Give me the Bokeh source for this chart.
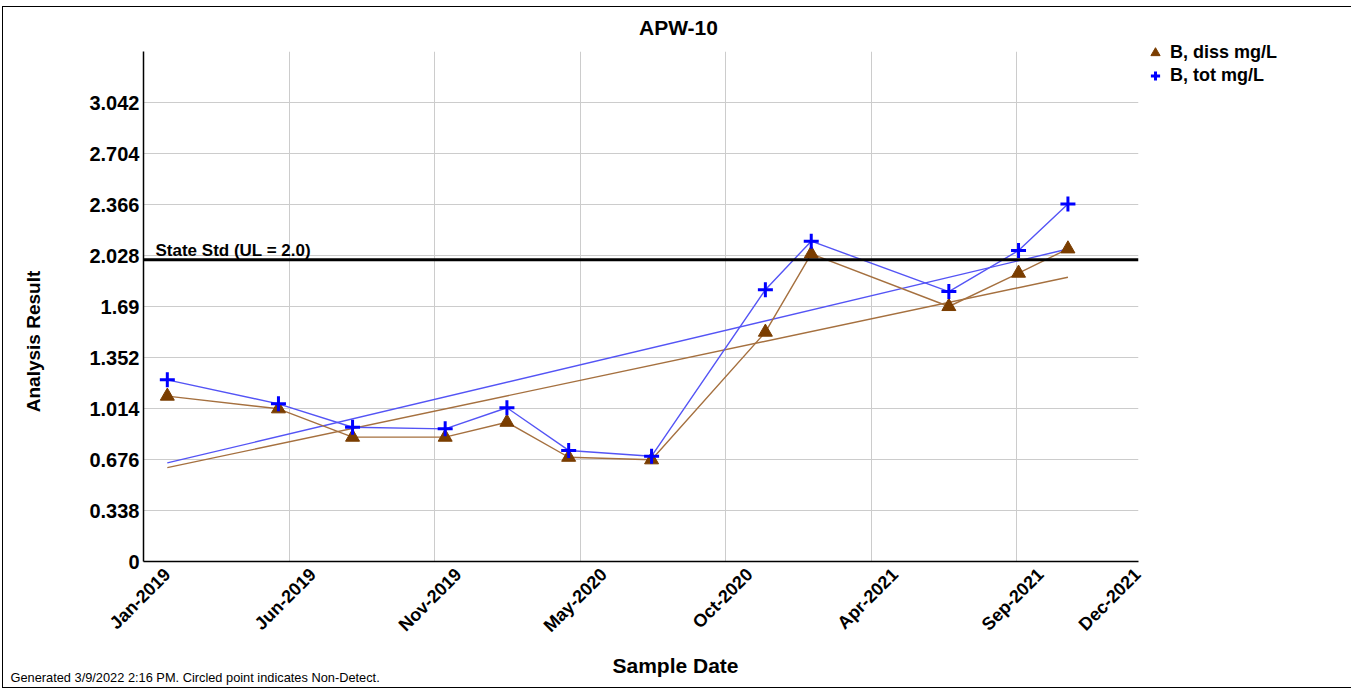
import numpy as np
import pandas as pd
from math import pi
from bokeh.plotting import figure
from bokeh.models import (Range1d, FixedTicker, Span, Label, InlineStyleSheet,
                          ColumnDataSource, Legend, LegendItem)
from bokeh.embed import file_html
from bokeh.resources import INLINE

# ---------------- data ----------------
chart_title = "APW-10"
sample_dates = ["2019-01-28", "2019-06-03", "2019-08-26", "2019-12-09",
                "2020-02-17", "2020-04-27", "2020-07-30", "2020-12-06",
                "2021-01-27", "2021-07-02", "2021-09-19", "2021-11-14"]
b_diss = [1.096, 1.012, 0.824, 0.824, 0.923, 0.691, 0.674, 1.520,
          2.039, 1.690, 1.911, 2.072]
b_tot = [1.204, 1.045, 0.890, 0.879, 1.019, 0.736, 0.698, 1.801,
         2.123, 1.789, 2.061, 2.370]
series_names = ["B, diss mg/L", "B, tot mg/L"]

y_ticks = [0, 0.338, 0.676, 1.014, 1.352, 1.69, 2.028, 2.366, 2.704, 3.042]
y_tick_labels = ["0", "0.338", "0.676", "1.014", "1.352", "1.69", "2.028",
                 "2.366", "2.704", "3.042"]
y_max = 3.38
x_start, x_end = "2019-01-01", "2022-02-02"
x_grid_dates = ["2019-01-01", "2019-06-15", "2019-11-27", "2020-05-10",
                "2020-10-22", "2021-04-05", "2021-09-17"]
x_label_dates = x_grid_dates + ["2022-01-05"]
x_tick_labels = ["Jan-2019", "Jun-2019", "Nov-2019", "May-2020", "Oct-2020",
                 "Apr-2021", "Sep-2021", "Dec-2021"]
state_std = 2.0
state_std_text = "State Std (UL = 2.0)"
x_title = "Sample Date"
y_title = "Analysis Result"
footer_text = "Generated 3/9/2022 2:16 PM. Circled point indicates Non-Detect."

# ---------------- styling ----------------
FONT = "Liberation Sans"
DISS_LINE = "#a5703f"
DISS_MARK = "#7a3d00"
TOT_LINE = "#5454f5"
TOT_MARK = "#0000ff"
GRID = "#cccccc"
LABEL_SHIFT_DAYS = 27   # rotated tick labels sit centred under their tick

dates = pd.to_datetime(sample_dates)
src = ColumnDataSource(dict(date=dates, diss=b_diss, tot=b_tot))

p = figure(width=1345, height=680, frame_width=995, frame_height=510,
           x_axis_type="datetime", title=None,
           x_range=Range1d(start=pd.Timestamp(x_start), end=pd.Timestamp(x_end)),
           y_range=Range1d(start=0, end=y_max),
           output_backend="svg", toolbar_location=None,
           min_border_left=140, min_border_right=210,
           min_border_top=44, min_border_bottom=126)
p.outline_line_color = None
p.background_fill_color = "white"
p.border_fill_color = "white"
p.stylesheets = [InlineStyleSheet(css=(
    ":host { border: 1px solid #000000 !important; box-sizing: content-box !important;"
    " margin-left: 2px !important; margin-top: 6px !important; }"))]


def ms(d):
    return int(pd.Timestamp(d).value // 10**6)


shift_ms = LABEL_SHIFT_DAYS * 86400000
label_ticks = [ms(d) + shift_ms for d in x_label_dates]

# axes
p.xaxis.ticker = FixedTicker(ticks=label_ticks)
p.xaxis.major_label_overrides = {t: l for t, l in zip(label_ticks, x_tick_labels)}
p.xaxis.major_label_orientation = pi / 4
p.xaxis.major_label_standoff = 10
p.xaxis.major_label_text_font_size = "18px"
p.xgrid.ticker = FixedTicker(ticks=[ms(d) for d in x_grid_dates])
p.yaxis.ticker = FixedTicker(ticks=y_ticks)
p.yaxis.major_label_overrides = {t: l for t, l in zip(y_ticks, y_tick_labels)}
p.yaxis.major_label_standoff = 4
p.yaxis.major_label_text_font_size = "20px"
for ax in (p.xaxis, p.yaxis):
    ax.major_tick_out = 0
    ax.major_tick_in = 0
    ax.minor_tick_out = 0
    ax.minor_tick_in = 0
    ax.axis_line_color = "black"
    ax.axis_line_width = 1.5
    ax.major_label_text_font = FONT
    ax.major_label_text_font_style = "bold"
    ax.major_label_text_color = "black"

p.xgrid.grid_line_color = GRID
p.ygrid.grid_line_color = GRID

# trend lines (least squares)
days = np.array((dates - dates[0]).days, dtype=float)
trend_x = [dates[0], dates[-1]]
for vals, col in ((b_diss, DISS_LINE), (b_tot, TOT_LINE)):
    k, b = np.polyfit(days, np.array(vals), 1)
    p.line(x=trend_x, y=[b + k * days[0], b + k * days[-1]],
           line_color=col, line_width=1.4)

# series
p.line("date", "diss", source=src, line_color=DISS_LINE, line_width=1.4)
p.line("date", "tot", source=src, line_color=TOT_LINE, line_width=1.4)
r_diss = p.scatter("date", "diss", source=src, marker="triangle", size=14,
                   fill_color=DISS_MARK, line_color=DISS_MARK)
r_tot = p.scatter("date", "tot", source=src, marker="cross", size=15,
                  line_color=TOT_MARK, line_width=3)

# state standard
p.add_layout(Span(location=state_std, dimension="width", line_color="black",
                  line_width=3))
p.add_layout(Label(x=pd.Timestamp(x_start), y=state_std, x_offset=12, y_offset=9,
                   text=state_std_text, text_font=FONT, text_font_style="bold",
                   text_font_size="17px", text_baseline="alphabetic",
                   text_color="black"))

# title, axis titles, footer as labels in the side panels
p.add_layout(Label(x=535, y=24, x_units="screen", y_units="screen",
                   text=chart_title, text_font=FONT, text_font_style="bold",
                   text_font_size="21px", text_align="center",
                   text_baseline="middle", text_color="black"), "above")
p.add_layout(Label(x=-32, y=220, x_units="screen", y_units="screen",
                   text=y_title, angle=pi / 2, text_font=FONT,
                   text_font_style="bold", text_font_size="19px",
                   text_align="center", text_baseline="middle",
                   text_color="black"), "left")
p.add_layout(Label(x=532, y=3, x_units="screen", y_units="screen",
                   text=x_title, text_font=FONT, text_font_style="bold",
                   text_font_size="21px", text_align="center",
                   text_baseline="middle", text_color="black"), "below")
p.add_layout(Label(x=-133, y=6, x_units="screen", y_units="screen",
                   text=footer_text, text_font=FONT, text_font_size="12.8px",
                   text_align="left", text_baseline="middle",
                   text_color="black"), "below")

legend = Legend(items=[LegendItem(label=series_names[0], renderers=[r_diss]),
                       LegendItem(label=series_names[1], renderers=[r_tot])],
                location=(2, 474))
legend.border_line_color = None
legend.background_fill_alpha = 0
legend.padding = 0
legend.margin = 0
legend.spacing = 0
legend.glyph_width = 30
legend.glyph_height = 23
legend.label_height = 23
legend.label_standoff = 0
legend.label_text_font = FONT
legend.label_text_font_style = "bold"
legend.label_text_font_size = "18px"
legend.label_text_color = "black"
p.add_layout(legend, "right")

open("out.html", "w").write(file_html(p, INLINE))
